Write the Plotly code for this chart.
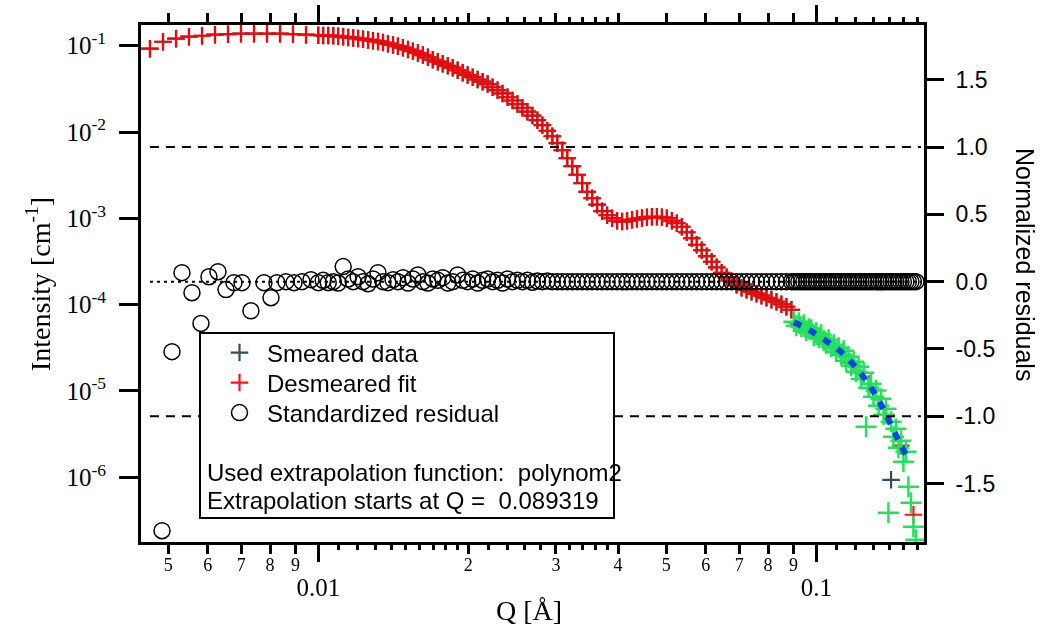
import plotly.graph_objects as go

# ---------------- data ----------------
# low-Q desmeared fit / smeared data
q_low = [0.004592, 0.004877, 0.005180, 0.005500, 0.005841, 0.006203, 0.006587,
         0.006995, 0.007429, 0.007889, 0.008378, 0.008897, 0.009448]
i_low = [0.0923, 0.1112, 0.1205, 0.1272, 0.1305, 0.1341, 0.1359,
         0.1377, 0.1377, 0.1377, 0.1377, 0.1359, 0.1341]

q_mid = [0.01000, 0.01023, 0.01047, 0.01072, 0.01096, 0.01122, 0.01148, 0.01175, 0.01202, 0.01230,
         0.01259, 0.01288, 0.01318, 0.01349, 0.01380, 0.01413, 0.01445, 0.01479, 0.01514, 0.01549,
         0.01585, 0.01622, 0.01660, 0.01698, 0.01738, 0.01778, 0.01820, 0.01862, 0.01905, 0.01950,
         0.01995, 0.02042, 0.02089, 0.02138, 0.02188, 0.02239, 0.02291, 0.02344, 0.02399, 0.02455,
         0.02512, 0.02570, 0.02630, 0.02692, 0.02754, 0.02818, 0.02884, 0.02951, 0.03020, 0.03090,
         0.03162, 0.03236, 0.03311, 0.03388, 0.03467, 0.03548, 0.03631, 0.03715, 0.03802, 0.03890,
         0.03981, 0.04074, 0.04169, 0.04266, 0.04365, 0.04467, 0.04571, 0.04677, 0.04786, 0.04898,
         0.05012, 0.05129, 0.05248, 0.05370, 0.05495, 0.05623, 0.05754, 0.05888, 0.06026, 0.06166,
         0.06310, 0.06457, 0.06607, 0.06761, 0.06918, 0.07079, 0.07244, 0.07413, 0.07586, 0.07762,
         0.07943, 0.08128, 0.08318, 0.08511, 0.08710, 0.08913]
i_mid = [0.1323, 0.1316, 0.1309, 0.1305, 0.1285, 0.1268, 0.1248, 0.1231, 0.1212, 0.1189,
         0.1167, 0.1143, 0.1122, 0.1089, 0.1055, 0.1019, 0.0987, 0.0948, 0.0904, 0.0864,
         0.0823, 0.0780, 0.0734, 0.0688, 0.0653, 0.0619, 0.0586, 0.0556, 0.0520, 0.0487,
         0.0458, 0.0432, 0.0406, 0.0383, 0.0359, 0.0330, 0.0305, 0.0280, 0.0253, 0.0232,
         0.0211, 0.0191, 0.0172, 0.0155, 0.0137, 0.0120, 0.01035, 0.00894, 0.00742, 0.00615,
         0.00497, 0.00402, 0.00320, 0.00255, 0.00203, 0.00171, 0.00144, 0.00121, 0.001086, 0.001003,
         0.000938, 0.000918, 0.000938, 0.000963, 0.000989, 0.001008, 0.001027, 0.001043, 0.001043, 0.001030,
         0.001003, 0.000938, 0.000877, 0.000799, 0.000690, 0.000588, 0.000494, 0.000427, 0.000364, 0.000314,
         0.000271, 0.000234, 0.000208, 0.000187, 0.000170, 0.000157, 0.000149, 0.000141, 0.000134, 0.000127,
         0.000120, 0.000114, 0.000108, 0.000101, 0.0000946, 0.0000873]

# desmeared fit beyond the extrapolation start (mostly hidden under green)
q_fit_high = [0.09226, 0.1000, 0.1084, 0.1175, 0.1274, 0.1380, 0.1479, 0.1567]
i_fit_high = [5.85e-5, 4.50e-5, 3.27e-5, 2.13e-5, 1.20e-5, 5.30e-6, 2.32e-6, 3.68e-7]

# one smeared point visible among the high-Q data
q_smeared_extra = [0.1413]
i_smeared_extra = [9.35e-7]

# data in the extrapolation region (green crosses)
q_ext = [0.09016, 0.09120, 0.09226, 0.09333, 0.09441, 0.09550, 0.09661, 0.09772, 0.09886, 0.1000,
         0.1012, 0.1023, 0.1035, 0.1047, 0.1059, 0.1072, 0.1084, 0.1096, 0.1109, 0.1122,
         0.1135, 0.1148, 0.1161, 0.1175, 0.1189, 0.1202, 0.1216, 0.1230, 0.1245, 0.1259,
         0.1274, 0.1288, 0.1303, 0.1318, 0.1334, 0.1349, 0.1365, 0.1380, 0.1396, 0.1413,
         0.1429, 0.1445, 0.1462, 0.1479, 0.1496, 0.1514, 0.1531, 0.1549, 0.1567, 0.1585]
i_ext = [6.34e-5, 5.69e-5, 6.17e-5, 5.54e-5, 5.85e-5, 4.98e-5, 5.26e-5, 5.12e-5, 4.36e-5, 4.73e-5,
         4.13e-5, 4.48e-5, 3.82e-5, 3.52e-5, 3.92e-5, 3.25e-5, 3.43e-5, 2.85e-5, 3.17e-5, 2.63e-5,
         2.92e-5, 2.24e-5, 2.49e-5, 1.96e-5, 2.18e-5, 1.67e-5, 1.91e-5, 1.38e-5, 1.63e-5, 3.85e-6,
         1.09e-5, 1.21e-5, 8.57e-6, 1.01e-5, 6.74e-6, 8.12e-6, 5.30e-6, 6.22e-6, 3.88e-7, 4.39e-6,
         2.95e-6, 3.65e-6, 2.20e-6, 2.65e-6, 1.51e-6, 1.97e-6, 7.76e-7, 5.06e-7, 2.67e-7, 1.89e-7]

# polynom2 extrapolation function (blue dotted)
q_poly = [0.09016, 0.09661, 0.1047, 0.1122, 0.1202, 0.1274, 0.1334, 0.1380, 0.1429, 0.1479, 0.1531]
i_poly = [6.25e-5, 5.12e-5, 3.80e-5, 2.82e-5, 1.86e-5, 1.20e-5, 7.82e-6, 5.30e-6, 3.55e-6, 2.32e-6, 1.66e-6]

# standardized residuals (right axis)
q_res_low = [0.004855, 0.005084, 0.005324, 0.005576, 0.005813, 0.006032, 0.006289, 0.006526, 0.006771,
             0.007026, 0.007324, 0.007778, 0.008035, 0.008261, 0.008612, 0.008937, 0.009274, 0.009668]
res_low = [-1.85, -0.52, 0.067, -0.082, -0.31, 0.037, 0.074, -0.059, -0.007,
           -0.007, -0.216, -0.007, -0.119, -0.007, 0.0, -0.007, 0.0, 0.015]
res_mid = [-0.007, 0.010, -0.007, 0.000, -0.010, 0.112, 0.020, 0.000, 0.037, 0.000,
           -0.015, 0.020, 0.067, 0.000, -0.007, 0.015, 0.000, 0.030, -0.010, 0.020,
           0.050, 0.000, -0.010, 0.020, 0.010, 0.030, -0.010, 0.000, 0.050, 0.010,
           0.000, 0.020, -0.010, 0.010, 0.020, 0.000, 0.010, -0.010, 0.020, 0.000,
           0.010, 0.000, 0.010, -0.005, 0.005, 0.000, 0.005, 0.000, 0.000, 0.000,
           0.0, 0.0, 0.0, 0.0, 0.0, 0.0, 0.0, 0.0, 0.0, 0.0,
           0.0, 0.0, 0.0, 0.0, 0.0, 0.0, 0.0, 0.0, 0.0, 0.0,
           0.0, 0.0, 0.0, 0.0, 0.0, 0.0, 0.0, 0.0, 0.0, 0.0,
           0.0, 0.0, 0.0, 0.0, 0.0, 0.0, 0.0, 0.0, 0.0, 0.0,
           0.0, 0.0, 0.0, 0.0, 0.0, 0.0]
res_ext = [0.0, 0.0, 0.0, 0.0, 0.0, 0.0, 0.0, 0.0, 0.0, 0.0,
           0.0, 0.0, 0.0, 0.0, 0.0, 0.0, 0.0, 0.0, 0.0, 0.0,
           0.0, 0.0, 0.0, 0.0, 0.0, 0.0, 0.0, 0.0, 0.0, 0.0,
           0.0, 0.0, 0.0, 0.0, 0.0, 0.0, 0.0, 0.0, 0.0, 0.0,
           0.0, 0.0, 0.0, 0.0, 0.0, 0.0, 0.0, 0.0, 0.0, 0.0]

# reference lines on the residual axis
ref_q = [0.004592, 0.1622]
ref_levels = [1.0, 0.0, -1.0]

# tick labels
x_minor_vals = [0.005, 0.006, 0.007, 0.008, 0.009, 0.02, 0.03, 0.04, 0.05, 0.06, 0.07, 0.08, 0.09]
x_minor_text = ["5", "6", "7", "8", "9", "2", "3", "4", "5", "6", "7", "8", "9"]
x_small_vals = [0.011, 0.012, 0.013, 0.014, 0.015, 0.016, 0.017, 0.018, 0.019,
                0.022, 0.024, 0.026, 0.028, 0.032, 0.034, 0.036, 0.038,
                0.11, 0.12, 0.13, 0.14, 0.15, 0.16]
x_major_vals = [0.01, 0.1]
x_major_text = ["0.01", "0.1"]
y_vals = [1e-1, 1e-2, 1e-3, 1e-4, 1e-5, 1e-6]
y_text = ["10<sup>-1</sup>", "10<sup>-2</sup>", "10<sup>-3</sup>", "10<sup>-4</sup>",
          "10<sup>-5</sup>", "10<sup>-6</sup>"]
y2_vals = [-1.5, -1.0, -0.5, 0.0, 0.5, 1.0, 1.5]
y2_text = ["-1.5", "-1.0", "-0.5", "0.0", "0.5", "1.0", "1.5"]

# ---------------- styles ----------------
SERIF = "Liberation Serif"
SANS = "Liberation Sans"
C_SMEAR = "#2f4f5f"
C_FIT = "#ff0000"
C_EXT = "#22e25a"
C_POLY = "#0a46e6"

# plot area in pixels (for paper-coordinate placement of decorations)
L, R, T, B = 141, 924, 25, 542
W, H = R - L, B - T


def px(x):
    return (x - L) / W


def py(y):
    return (B - y) / H


fig = go.Figure()

fig.add_trace(go.Scatter(
    x=q_low + q_mid + q_smeared_extra, y=i_low + i_mid + i_smeared_extra,
    mode="markers", name="Smeared data", legend="legend",
    marker=dict(symbol="cross-thin-open", size=12.5, color=C_SMEAR,
                line=dict(color=C_SMEAR, width=2.2)),
))
fig.add_trace(go.Scatter(
    x=q_low + q_mid + q_fit_high, y=i_low + i_mid + i_fit_high,
    mode="markers", name="Desmeared fit", opacity=0.92, legend="legend2",
    marker=dict(symbol="cross-thin-open", size=12.5, color=C_FIT,
                line=dict(color=C_FIT, width=2.2)),
))
fig.add_trace(go.Scatter(
    x=q_ext, y=i_ext, mode="markers", name="Extrapolation data", showlegend=False,
    marker=dict(symbol="cross-thin-open", size=15, color=C_EXT,
                line=dict(color=C_EXT, width=2.5)),
))
fig.add_trace(go.Scatter(
    x=q_poly, y=i_poly, mode="lines", name="polynom2", showlegend=False,
    line=dict(color=C_POLY, width=6, dash="8px,9px", shape="spline"),
))
fig.add_trace(go.Scatter(
    x=q_res_low + q_mid + q_ext, y=res_low + res_mid + res_ext,
    mode="markers", name="Standardized residual", xaxis="x", yaxis="y2", legend="legend3",
    marker=dict(symbol="circle-open", size=16, color="black",
                line=dict(color="black", width=1.5)),
))
for lvl in ref_levels:
    fig.add_trace(go.Scatter(
        x=ref_q, y=[lvl, lvl], mode="lines", showlegend=False, hoverinfo="skip",
        xaxis="x2", yaxis="y2",
        line=dict(color="black", width=2, dash="3px,4px" if lvl == 0 else "9px,7px"),
    ))

legend_style = dict(xanchor="left", yanchor="middle", bgcolor="rgba(0,0,0,0)",
                    borderwidth=0, itemwidth=45,
                    font=dict(family=SANS, size=24, color="black"))

XR = [-2.356, -0.7837]
fig.update_layout(
    template="none",
    width=1040, height=631, autosize=False,
    margin=dict(l=L, r=1040 - R, t=T, b=631 - B, pad=0),
    paper_bgcolor="white", plot_bgcolor="white",
    showlegend=True,
    xaxis=dict(
        type="log", range=XR, showgrid=False, zeroline=False, automargin=False,
        showline=True, linecolor="black", linewidth=3, mirror="ticks",
        tickmode="array", tickvals=x_minor_vals, ticktext=x_minor_text,
        ticks="outside", ticklen=9, tickwidth=3, tickcolor="black", ticklabelstandoff=-5,
        tickfont=dict(family=SERIF, size=18, color="black"),
        minor=dict(tickmode="array", tickvals=x_small_vals, ticks="outside",
                   ticklen=5, tickwidth=2.5, tickcolor="black", showgrid=False),
    ),
    xaxis2=dict(
        type="log", range=XR, overlaying="x", anchor="y", side="bottom",
        showgrid=False, zeroline=False, showline=False, mirror="ticks", automargin=False,
        tickmode="array", tickvals=x_major_vals, ticktext=x_major_text,
        ticks="outside", ticklen=19, tickwidth=3, tickcolor="black", ticklabelstandoff=4,
        tickfont=dict(family=SERIF, size=25, color="black"),
    ),
    yaxis=dict(
        type="log", range=[-6.750, -0.760], showgrid=False, zeroline=False, automargin=False,
        showline=True, linecolor="black", linewidth=3, mirror=True,
        tickmode="array", tickvals=y_vals, ticktext=y_text,
        ticks="outside", ticklen=19, tickwidth=3, tickcolor="black", ticklabelstandoff=8,
        tickfont=dict(family=SERIF, size=25, color="black"),
    ),
    yaxis2=dict(
        range=[-1.934, 1.907], overlaying="y", side="right", anchor="x", automargin=False,
        showgrid=False, zeroline=False, showline=False,
        tickmode="array", tickvals=y2_vals, ticktext=y2_text,
        ticks="outside", ticklen=19, tickwidth=3, tickcolor="black", ticklabelstandoff=7,
        tickfont=dict(family=SANS, size=23, color="black"),
    ),
    legend=dict(x=px(212), y=py(353), **legend_style),
    legend2=dict(x=px(212), y=py(383), **legend_style),
    legend3=dict(x=px(212), y=py(413), **legend_style),
    shapes=[dict(
        type="rect", xref="paper", yref="paper", layer="above",
        x0=px(200), x1=px(614), y0=py(518), y1=py(333),
        line=dict(color="black", width=2), fillcolor="white",
    )],
    annotations=[
        dict(text="Used extrapolation function:\u00a0 polynom2", xref="paper", yref="paper",
             x=px(205), y=py(472), xanchor="left", yanchor="middle",
             showarrow=False, font=dict(family=SANS, size=24, color="black")),
        dict(text="Extrapolation starts at Q =\u00a0 0.089319", xref="paper", yref="paper",
             x=px(205), y=py(500), xanchor="left", yanchor="middle",
             showarrow=False, font=dict(family=SANS, size=24, color="black")),
        dict(text="Normalized residuals", xref="paper", yref="paper",
             x=px(1025), y=py(264), xanchor="center", yanchor="middle",
             textangle=90, showarrow=False, font=dict(family=SANS, size=25, color="black")),
        dict(text="Intensity [cm<sup>-1</sup>]", xref="paper", yref="paper",
             x=px(38), y=py(284), xanchor="center", yanchor="middle",
             textangle=-90, showarrow=False, font=dict(family=SERIF, size=28, color="black")),
        dict(text="Q [Å]", xref="paper", yref="paper",
             x=px(529), y=py(610), xanchor="center", yanchor="middle",
             showarrow=False, font=dict(family=SERIF, size=28, color="black")),
    ],
)

fig.write_html("out.html")
